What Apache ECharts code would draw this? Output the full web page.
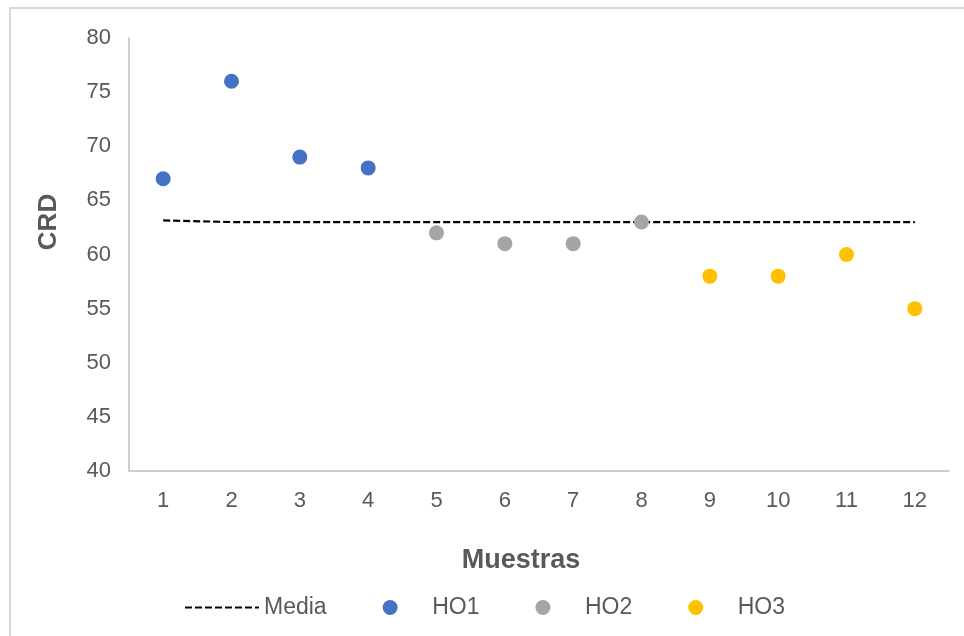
<!DOCTYPE html>
<html>
<head>
<meta charset="utf-8">
<script src="https://cdn.jsdelivr.net/npm/echarts@6/dist/echarts.min.js"></script>
<style>
  html, body { margin: 0; padding: 0; background: #fff; }
  #chart { width: 964px; height: 636px; }
</style>
</head>
<body>
<div id="chart"></div>
<script>
// Sample numbers on the horizontal axis
const muestras = ['1', '2', '3', '4', '5', '6', '7', '8', '9', '10', '11', '12'];

// CRD values per group (sample index, value)
const ho1 = [['1', 67], ['2', 76], ['3', 69], ['4', 68]];
const ho2 = [['5', 62], ['6', 61], ['7', 61], ['8', 63]];
const ho3 = [['9', 58], ['10', 58], ['11', 60], ['12', 55]];

// Mean reference line across all samples
const media = [63.15, 63, 63, 63, 63, 63, 63, 63, 63, 63, 63, 63];

const yTicks = { min: 40, max: 80, interval: 5 };

const textColor = '#595959';
const fontFamily = 'Arial, "Liberation Sans", sans-serif';

const chart = echarts.init(document.getElementById('chart'), null, { renderer: 'canvas' });

chart.setOption({
  animation: false,
  backgroundColor: '#ffffff',
  textStyle: { fontFamily: fontFamily },
  graphic: [
    {
      type: 'rect',
      shape: { x: 10, y: 8, width: 1000, height: 700 },
      style: { fill: 'none', stroke: '#d9d9d9', lineWidth: 2 },
      silent: true
    },
    {
      // vertical axis title
      type: 'text',
      x: 49,
      y: 222,
      rotation: Math.PI / 2,
      style: {
        text: 'CRD',
        fill: textColor,
        font: 'bold 26px ' + fontFamily,
        align: 'center',
        verticalAlign: 'middle'
      },
      silent: true
    }
  ],
  grid: { left: 129, right: 15, top: 38, bottom: 165, containLabel: false },
  legend: {
    bottom: 17,
    left: 184,
    padding: 0,
    itemWidth: 74,
    itemHeight: 15,
    itemGap: 56,
    textStyle: { color: textColor, fontSize: 23, fontFamily: fontFamily },
    data: [
      { name: 'Media', itemStyle: { opacity: 0 } },
      'HO1', 'HO2', 'HO3'
    ]
  },
  xAxis: {
    type: 'category',
    data: muestras,
    boundaryGap: true,
    name: 'Muestras',
    nameLocation: 'middle',
    nameGap: 76,
    nameTextStyle: {
      color: textColor, fontSize: 27, fontWeight: 'bold', fontFamily: fontFamily,
      padding: [0, 36, 0, 0]
    },
    axisLine: { lineStyle: { color: '#bfbfbf', width: 1.5 } },
    axisTick: { show: false },
    axisLabel: { color: textColor, fontSize: 22, margin: 19, fontFamily: fontFamily },
    splitLine: { show: false }
  },
  yAxis: {
    type: 'value',
    min: yTicks.min,
    max: yTicks.max,
    interval: yTicks.interval,
    axisLine: { show: true, lineStyle: { color: '#bfbfbf', width: 1.5 } },
    axisTick: { show: false },
    axisLabel: { color: textColor, fontSize: 22, margin: 18, fontFamily: fontFamily },
    splitLine: { show: false }
  },
  series: [
    {
      name: 'Media',
      type: 'line',
      data: media,
      symbol: 'none',
      lineStyle: { color: '#000000', width: 2.2, type: [7, 3] },
      itemStyle: { color: '#000000' },
      z: 1
    },
    {
      name: 'HO1',
      type: 'scatter',
      data: ho1,
      symbol: 'circle',
      symbolSize: 15,
      itemStyle: { color: '#4472C4', opacity: 1 },
      z: 3
    },
    {
      name: 'HO2',
      type: 'scatter',
      data: ho2,
      symbol: 'circle',
      symbolSize: 15,
      itemStyle: { color: '#A5A5A5', opacity: 1 },
      z: 3
    },
    {
      name: 'HO3',
      type: 'scatter',
      data: ho3,
      symbol: 'circle',
      symbolSize: 15,
      itemStyle: { color: '#FFC000', opacity: 1 },
      z: 3
    }
  ]
});
</script>
</body>
</html>
